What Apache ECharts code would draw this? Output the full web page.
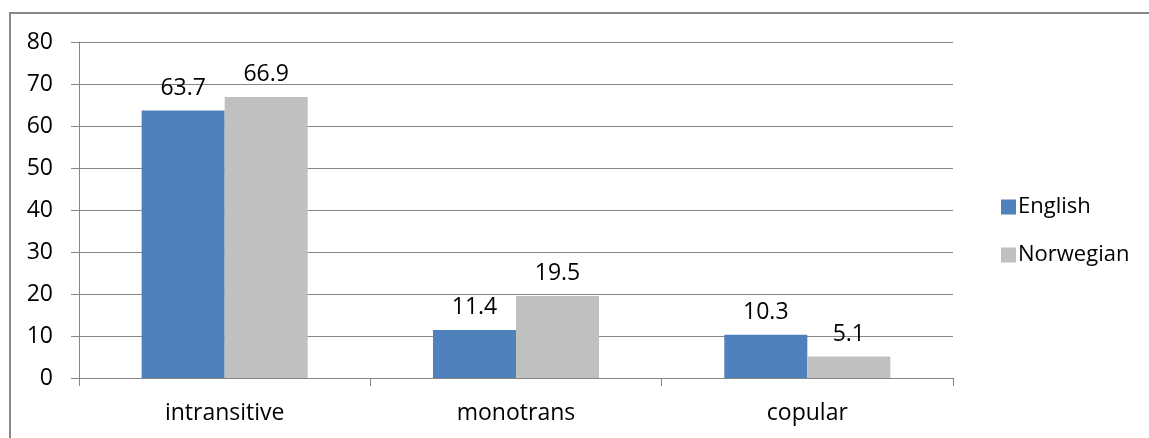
<!DOCTYPE html>
<html>
<head>
<meta charset="utf-8">
<script src="https://cdn.jsdelivr.net/npm/echarts@6/dist/echarts.min.js"></script>
<style>
  html, body { margin: 0; padding: 0; background: #ffffff; }
  #chart { width: 1149px; height: 438px; }
</style>
</head>
<body>
<div id="chart"></div>
<script>
// Verb categories and percentage shares per language
const categories = ['intransitive', 'monotrans', 'copular'];
const english = [63.7, 11.4, 10.3];
const norwegian = [66.9, 19.5, 5.1];
const seriesNames = ['English', 'Norwegian'];

const FONT = '"Open Sans", "Liberation Sans", sans-serif';
const TEXT = '#000000';
const LINE = '#868686';

const chart = echarts.init(document.getElementById('chart'), null, { renderer: 'canvas' });

const labelStyle = {
  show: true,
  position: 'top',
  distance: 11,
  color: TEXT,
  fontFamily: FONT,
  fontSize: 23
};

chart.setOption({
  animation: false,
  backgroundColor: '#ffffff',
  graphic: [{
    type: 'rect',
    shape: { x: 10, y: 13, width: 1150, height: 440 },
    style: { fill: 'none', stroke: '#878787', lineWidth: 2 },
    silent: true,
    z: -1
  }],
  grid: { left: 79, right: 196, top: 42, bottom: 60, containLabel: false },
  legend: {
    orient: 'vertical',
    left: 996,
    top: 191,
    itemWidth: 15,
    itemHeight: 15,
    itemGap: 26,
    icon: 'rect',
    textStyle: { color: TEXT, fontFamily: FONT, fontSize: 22, padding: [0, 0, 0, -3] },
    data: seriesNames
  },
  xAxis: {
    type: 'category',
    data: categories,
    axisLine: { lineStyle: { color: LINE, width: 1 } },
    axisTick: { show: true, length: 8, interval: 0, lineStyle: { color: LINE } },
    axisLabel: { color: TEXT, fontFamily: FONT, fontSize: 23, margin: 24 }
  },
  yAxis: {
    type: 'value',
    min: 0,
    max: 80,
    interval: 10,
    axisLine: { show: true, lineStyle: { color: LINE, width: 1 } },
    axisTick: { show: true, length: 8, lineStyle: { color: LINE } },
    splitLine: { show: true, lineStyle: { color: LINE, width: 1 } },
    axisLabel: { color: TEXT, fontFamily: FONT, fontSize: 23, margin: 26 }
  },
  series: [
    {
      name: seriesNames[0],
      type: 'bar',
      data: english,
      barGap: '0%',
      barCategoryGap: '43%',
      itemStyle: { color: '#4F81BD' },
      label: labelStyle
    },
    {
      name: seriesNames[1],
      type: 'bar',
      data: norwegian,
      barGap: '0%',
      barCategoryGap: '43%',
      itemStyle: { color: '#C0C0C0' },
      label: labelStyle
    }
  ]
});
</script>
</body>
</html>
